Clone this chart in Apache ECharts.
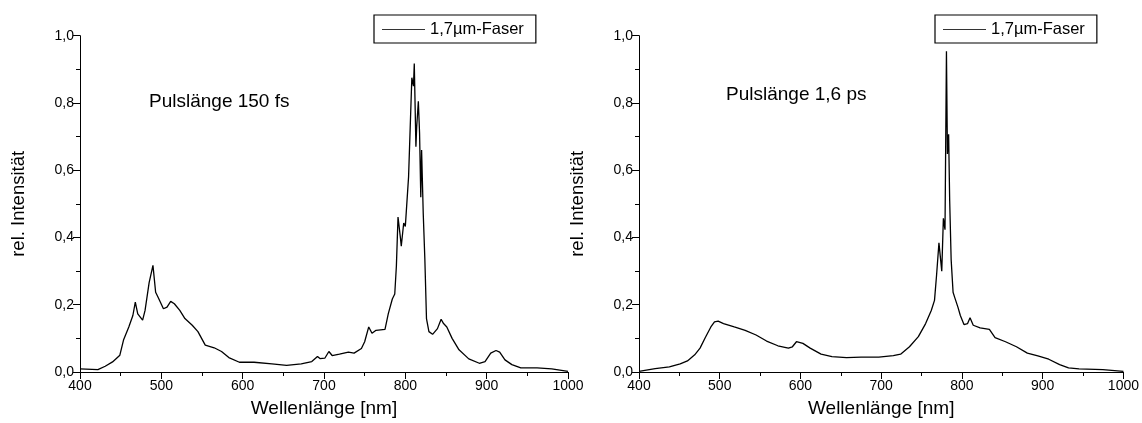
<!DOCTYPE html>
<html>
<head>
<meta charset="utf-8">
<script src="https://cdn.jsdelivr.net/npm/echarts@6/dist/echarts.min.js"></script>
<style>
html,body{margin:0;padding:0;background:#fff;}
#chart{width:1142px;height:423px;}
</style>
</head>
<body>
<div id="chart"></div>
<script>
// Left panel: Pulslänge 150 fs
const wl150 = [400,422,431,440,449,453.5,460,465,468,471,477,480,485,487,489.7,493,496,502.6,507,511.5,516,522.7,529,538,545,554,565,574,583,596,614,636,654,672,685,692,695,701,706,710,719,730,737,746,750,755,759,764,775,779,784,787,789,791,794,795,798,800,804,808,810,811,813,814,816,817.5,819,820,822,824,826,829,833.5,839.5,844,847,851,857.5,866,878,891,898,905,911.5,916,922.5,931,942,962,980,1000];
const int150 = [0.009,0.007,0.017,0.03,0.05,0.095,0.134,0.168,0.208,0.173,0.154,0.183,0.266,0.268,0.317,0.237,0.222,0.188,0.193,0.21,0.203,0.183,0.159,0.139,0.12,0.08,0.072,0.061,0.043,0.029,0.029,0.024,0.02,0.024,0.031,0.046,0.04,0.041,0.061,0.049,0.053,0.059,0.056,0.07,0.09,0.134,0.115,0.124,0.127,0.173,0.217,0.232,0.315,0.461,0.398,0.374,0.443,0.433,0.581,0.875,0.85,0.917,0.67,0.73,0.805,0.71,0.52,0.66,0.472,0.335,0.159,0.12,0.112,0.129,0.157,0.144,0.134,0.1,0.066,0.039,0.026,0.031,0.056,0.064,0.059,0.036,0.022,0.012,0.012,0.009,0.002];
// Right panel: Pulslänge 1,6 ps
const wl16 = [400,420,437.6,451,460,469,475.6,482,489,493.5,498,504.7,518,531.5,545,558,572,585,590,595,603,612,625.5,639,657,675,697,715,724,735,746,755,762,766,768.5,771.5,775,777,779,780.8,782,783.5,784.8,786.6,789,791,795,798,802.5,807,810,814,822.5,834,841,854,867.5,881,894,907.5,921,932,945,974.5,1000];
const int16 = [0.002,0.01,0.015,0.024,0.033,0.051,0.071,0.102,0.134,0.149,0.151,0.144,0.134,0.124,0.11,0.092,0.078,0.071,0.075,0.09,0.085,0.071,0.053,0.046,0.043,0.044,0.044,0.049,0.053,0.075,0.105,0.144,0.183,0.213,0.286,0.384,0.3,0.457,0.423,0.954,0.648,0.707,0.51,0.335,0.237,0.222,0.193,0.168,0.141,0.144,0.161,0.139,0.131,0.127,0.102,0.09,0.075,0.056,0.048,0.038,0.022,0.012,0.009,0.007,0.002];
const seriesName = '1,7µm-Faser';
const notes = ['Pulslänge 150 fs', 'Pulslänge 1,6 ps'];
const xName = 'Wellenlänge [nm]';
const yName = 'rel. Intensität';

const FONT = "'Liberation Sans', Arial, sans-serif";
const pairs = (xs, ys) => xs.map((x, i) => [x, ys[i]]);

function xAxis(gi) {
  return {
    type: 'value', gridIndex: gi, min: 400, max: 1000, interval: 100,
    name: xName, nameLocation: 'middle', nameGap: 27,
    nameTextStyle: { fontFamily: FONT, fontSize: 19, color: '#000' },
    axisLine: { show: true, lineStyle: { color: '#000', width: 1 } },
    axisTick: { show: true, inside: false, length: 7, lineStyle: { color: '#000' } },
    minorTick: { show: true, splitNumber: 2, length: 4, lineStyle: { color: '#000' } },
    axisLabel: { fontFamily: FONT, fontSize: 14, color: '#000', margin: 7,
      formatter: v => String(Math.round(v)) },
    splitLine: { show: false }
  };
}
function yAxis(gi) {
  return {
    type: 'value', gridIndex: gi, min: 0, max: 1, interval: 0.2,
    name: yName, nameLocation: 'middle', nameGap: 52, nameRotate: 90,
    nameTextStyle: { fontFamily: FONT, fontSize: 18.5, color: '#000' },
    axisLine: { show: true, lineStyle: { color: '#000', width: 1 } },
    axisTick: { show: true, inside: false, length: 7, lineStyle: { color: '#000' } },
    minorTick: { show: true, splitNumber: 2, length: 4, lineStyle: { color: '#000' } },
    axisLabel: { fontFamily: FONT, fontSize: 14, color: '#000', margin: 6,
      formatter: v => v.toFixed(1).replace('.', ',') },
    splitLine: { show: false }
  };
}
function legend(left) {
  return {
    data: [seriesName], left: left, top: 15, orient: 'horizontal',
    borderColor: '#000', borderWidth: 1.2, padding: [6, 12, 5, 8],
    itemWidth: 43, itemHeight: 1, icon: 'rect', itemGap: 0,
    selectedMode: false,
    textStyle: { fontFamily: FONT, fontSize: 16.5, color: '#000' }
  };
}
function line(gi, xs, ys) {
  return {
    type: 'line', name: seriesName, xAxisIndex: gi, yAxisIndex: gi,
    data: pairs(xs, ys), showSymbol: false, symbol: 'none', animation: false,
    lineStyle: { color: '#000', width: 1.3 }, itemStyle: { color: '#333' }
  };
}

const chart = echarts.init(document.getElementById('chart'), null, { renderer: 'canvas' });
chart.setOption({
  backgroundColor: '#fff',
  animation: false,
  grid: [
    { left: 80, top: 35.7, width: 488, height: 338.3 },
    { left: 639, top: 35.7, width: 488, height: 338.3 }
  ],
  xAxis: [xAxis(0), xAxis(1)],
  yAxis: [yAxis(0), yAxis(1)],
  legend: [legend(374), legend(935)],
  series: [line(0, wl150, int150), line(1, wl16, int16)],
  graphic: [
    { type: 'text', left: 149, top: 92, style: { text: notes[0], font: "19px 'Liberation Sans', Arial", fill: '#000' } },
    { type: 'text', left: 726, top: 85, style: { text: notes[1], font: "19px 'Liberation Sans', Arial", fill: '#000' } }
  ]
});
</script>
</body>
</html>
